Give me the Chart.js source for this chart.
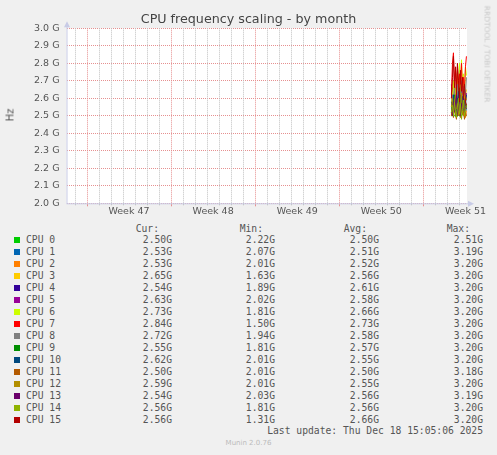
<!DOCTYPE html>
<html>
<head>
<meta charset="utf-8">
<script src="https://cdn.jsdelivr.net/npm/chart.js@4"></script>
<style>
  body { margin:0; background:#f0f0f0; width:497px; height:455px; overflow:hidden; position:relative; font-family:"DejaVu Sans", sans-serif; }
  #wrap { position:absolute; left:0; top:0; width:497px; height:220px; }
  .abs { position:absolute; white-space:pre; }
  .mono { font-family:"DejaVu Sans Mono", monospace; font-size:9.7px; color:#555; line-height:12px; }
  .sw { position:absolute; width:6px; height:6px; }
</style>
</head>
<body>
<div id="wrap"><canvas id="cpu"></canvas></div>
<div class="abs" id="title" style="left:0;width:497px;top:11px;text-align:center;font-size:12.7px;color:#444;">CPU frequency scaling - by month</div>
<div class="abs" style="left:10px;top:115px;font-size:10px;color:#555;transform:translate(-50%,-50%) rotate(-90deg);">Hz</div>
<div class="abs" style="left:487px;top:54px;font-size:7.5px;color:#c8c8c8;transform:translate(-50%,-50%) rotate(90deg);">RRDTOOL / TOBI OETIKER</div>
<div id="legend"></div>
<div class="abs mono" style="right:14px;top:425px;">Last update: Thu Dec 18 15:05:06 2025</div>
<div class="abs" style="left:0;width:497px;top:439px;text-align:center;font-size:7px;color:#bbb;">Munin 2.0.76</div>
<script>
// time axis: days since Mon 17 Nov 2025 00:00
var xMin = -1.70;
var xMax = 31.628;
var weekStarts = [0, 7, 14, 21, 28];
var weekLabels = ['Week 47', 'Week 48', 'Week 49', 'Week 50', 'Week 51'];
var yTicks = [2.0, 2.1, 2.2, 2.3, 2.4, 2.5, 2.6, 2.7, 2.8, 2.9, 3.0];

// sample times (2h resolution, only the last ~1.3 days have data)
var times = [30.33, 30.42, 30.50, 30.58, 30.67, 30.75, 30.83, 30.92, 31.00, 31.08, 31.17, 31.25, 31.33, 31.42, 31.50, 31.58];

var cpuNames = ['CPU 0','CPU 1','CPU 2','CPU 3','CPU 4','CPU 5','CPU 6','CPU 7','CPU 8','CPU 9','CPU 10','CPU 11','CPU 12','CPU 13','CPU 14','CPU 15'];
var cpuColors = ['#00cc00','#0066b3','#ff8000','#ffcc00','#330099','#990099','#ccff00','#ff0000','#808080','#008f00','#00487d','#b35a00','#b38f00','#6b006b','#8fb300','#b30000'];

// GHz
var cpu0  = [2.50,2.50,2.51,2.50,2.50,2.49,2.50,2.51,2.50,2.50,2.50,2.51,2.50,2.50,2.50,2.50];
var cpu1  = [2.52,2.55,2.60,2.53,2.58,2.51,2.56,2.62,2.54,2.50,2.57,2.53,2.60,2.52,2.55,2.53];
var cpu2  = [2.50,2.58,2.52,2.64,2.55,2.49,2.60,2.53,2.57,2.51,2.62,2.54,2.50,2.58,2.49,2.53];
var cpu3  = [2.55,2.62,2.70,2.58,2.66,2.52,2.74,2.60,2.55,2.68,2.57,2.63,2.72,2.56,2.61,2.65];
var cpu4  = [2.68,2.58,2.52,2.64,2.55,2.60,2.50,2.62,2.57,2.53,2.66,2.55,2.59,2.52,2.57,2.54];
var cpu5  = [2.60,2.66,2.55,2.62,2.58,2.70,2.54,2.61,2.57,2.64,2.52,2.60,2.67,2.55,2.58,2.63];
var cpu6  = [2.56,2.62,2.70,2.60,2.66,2.58,2.76,2.65,2.80,2.62,2.82,2.68,2.74,2.60,2.78,2.73];
var cpu7  = [2.62,2.80,2.86,2.70,2.76,2.65,2.78,2.60,2.74,2.68,2.80,2.62,2.72,2.66,2.78,2.84];
var cpu8  = [2.55,2.62,2.58,2.66,2.54,2.60,2.68,2.57,2.63,2.55,2.70,2.60,2.58,2.65,2.62,2.72];
var cpu9  = [2.52,2.58,2.55,2.62,2.50,2.57,2.60,2.53,2.66,2.55,2.59,2.52,2.61,2.56,2.58,2.55];
var cpu10 = [2.58,2.52,2.62,2.55,2.60,2.50,2.57,2.64,2.53,2.59,2.55,2.61,2.52,2.58,2.56,2.62];
var cpu11 = [2.50,2.53,2.49,2.55,2.51,2.48,2.54,2.50,2.52,2.49,2.56,2.51,2.53,2.48,2.52,2.50];
var cpu12 = [2.55,2.60,2.52,2.58,2.62,2.54,2.57,2.50,2.60,2.55,2.63,2.52,2.58,2.54,2.61,2.59];
var cpu13 = [2.54,2.50,2.58,2.52,2.56,2.62,2.51,2.55,2.59,2.50,2.57,2.53,2.60,2.52,2.55,2.54];
var cpu14 = [2.52,2.56,2.50,2.58,2.53,2.49,2.55,2.60,2.51,2.57,2.48,2.54,2.59,2.50,2.53,2.56];
var cpu15 = [2.60,2.72,2.84,2.66,2.78,2.62,2.80,2.70,2.58,2.76,2.64,2.72,2.60,2.68,2.58,2.56];
var series = [cpu0,cpu1,cpu2,cpu3,cpu4,cpu5,cpu6,cpu7,cpu8,cpu9,cpu10,cpu11,cpu12,cpu13,cpu14,cpu15];

// legend table values
var curVals = ['2.50G','2.53G','2.53G','2.65G','2.54G','2.63G','2.73G','2.84G','2.72G','2.55G','2.62G','2.50G','2.59G','2.54G','2.56G','2.56G'];
var minVals = ['2.22G','2.07G','2.01G','1.63G','1.89G','2.02G','1.81G','1.50G','1.94G','1.81G','2.01G','2.01G','2.01G','2.03G','1.81G','1.31G'];
var avgVals = ['2.50G','2.51G','2.52G','2.56G','2.61G','2.58G','2.66G','2.73G','2.58G','2.57G','2.55G','2.50G','2.55G','2.56G','2.56G','2.66G'];
var maxVals = ['2.51G','3.19G','3.20G','3.20G','3.20G','3.20G','3.20G','3.20G','3.20G','3.20G','3.20G','3.18G','3.20G','3.19G','3.20G','3.20G'];

var datasets = series.map(function(vals, i) {
    return {
        label: cpuNames[i],
        data: vals.map(function(v, j) { return { x: times[j], y: v }; }),
        borderColor: cpuColors[i],
        borderWidth: 1,
        pointRadius: 0,
        tension: 0,
        order: series.length - i
    };
});

// label positions: middle of each week
var labelTicks = weekStarts.map(function(w) { return w + 3.5; });

var majorCol = '#e69090';
var minorCol = '#c0c0c0';

var axisDecor = {
    id: 'axisDecor',
    beforeDraw: function(chart) {
        var a = chart.chartArea, c = chart.ctx;
        c.save();
        c.fillStyle = '#ffffff';
        c.fillRect(a.left, a.top, a.right - a.left, a.bottom - a.top);
        c.restore();
    },
    beforeDatasetsDraw: function(chart) {
        // daily (grey) and weekly (red) dotted grid lines
        var a = chart.chartArea, c = chart.ctx, xs = chart.scales.x;
        c.save();
        c.lineWidth = 1;
        c.setLineDash([1, 1]);
        for (var d = Math.ceil(xMin); d <= xMax; d++) {
            var major = weekStarts.indexOf(d) >= 0;
            var px = Math.round(xs.getPixelForValue(d)) + 0.5;
            c.strokeStyle = major ? majorCol : minorCol;
            c.beginPath(); c.moveTo(px, a.top); c.lineTo(px, a.bottom); c.stroke();
        }
        c.restore();
    },
    afterDraw: function(chart) {
        var a = chart.chartArea, c = chart.ctx, xs = chart.scales.x;
        c.save();
        c.lineWidth = 1;
        for (var d = Math.ceil(xMin); d <= xMax; d++) {
            var major = weekStarts.indexOf(d) >= 0;
            var px = Math.round(xs.getPixelForValue(d)) + 0.5;
            c.strokeStyle = major ? majorCol : minorCol;
            c.beginPath(); c.moveTo(px, a.bottom); c.lineTo(px, a.bottom + (major ? 3 : 2)); c.stroke();
        }
        c.strokeStyle = '#c8cbe6';
        c.beginPath();
        c.moveTo(a.left + 0.5, a.bottom + 0.5); c.lineTo(a.left + 0.5, a.top - 3);
        c.moveTo(a.left, a.bottom + 0.5); c.lineTo(a.right + 3, a.bottom + 0.5);
        c.stroke();
        c.fillStyle = '#c8cbe6';
        c.beginPath();
        c.moveTo(a.left + 0.5, a.top - 7); c.lineTo(a.left - 2.5, a.top - 1); c.lineTo(a.left + 3.5, a.top - 1); c.fill();
        c.beginPath();
        c.moveTo(a.right + 7, a.bottom + 0.5); c.lineTo(a.right + 1, a.bottom - 2.5); c.lineTo(a.right + 1, a.bottom + 3.5); c.fill();
        c.restore();
    }
};

new Chart(document.getElementById('cpu').getContext('2d'), {
    type: 'line',
    data: { datasets: datasets },
    plugins: [axisDecor],
    options: {
        responsive: true,
        maintainAspectRatio: false,
        animation: false,
        layout: { padding: { left: 0, right: 30, top: 28.3, bottom: 0 } },
        plugins: { legend: { display: false }, tooltip: { enabled: false } },
        scales: {
            x: {
                type: 'linear',
                min: xMin,
                max: xMax,
                afterBuildTicks: function(s) { s.ticks = labelTicks.map(function(v) { return { value: v }; }); },
                afterFit: function(s) { s.height = 16.7; },
                ticks: {
                    autoSkip: false,
                    maxRotation: 0,
                    padding: 3,
                    color: '#555',
                    font: { family: 'DejaVu Sans', size: 9.5 },
                    callback: function(v, i) { return weekLabels[i]; }
                },
                grid: { display: false, drawTicks: false },
                border: { display: false }
            },
            y: {
                min: 2.0,
                max: 3.0,
                afterBuildTicks: function(s) { s.ticks = yTicks.map(function(v) { return { value: v }; }); },
                afterFit: function(s) { s.width = 66.5; },
                ticks: {
                    padding: 7,
                    color: '#555',
                    font: { family: 'DejaVu Sans', size: 9.5 },
                    callback: function(v) { return v.toFixed(1) + ' G'; }
                },
                grid: { drawTicks: false, lineWidth: 1, color: majorCol },
                border: { display: false, dash: [1, 1] }
            }
        }
    }
});

// legend table
var lg = document.getElementById('legend');
function put(text, style) {
    var d = document.createElement('div');
    d.className = 'abs mono';
    d.textContent = text;
    d.setAttribute('style', style);
    lg.appendChild(d);
}
put('Cur:', 'right:338px;top:222.5px;');
put('Min:', 'right:234px;top:222.5px;');
put('Avg:', 'right:130px;top:222.5px;');
put('Max:', 'right:27px;top:222.5px;');
cpuNames.forEach(function(n, i) {
    var top = 234 + 12 * i;
    var sw = document.createElement('div');
    sw.className = 'sw';
    sw.style.left = '14px';
    sw.style.top = (top + 3) + 'px';
    sw.style.background = cpuColors[i];
    lg.appendChild(sw);
    put(n, 'left:26px;top:' + top + 'px;');
    put(curVals[i], 'right:325px;top:' + top + 'px;');
    put(minVals[i], 'right:222px;top:' + top + 'px;');
    put(avgVals[i], 'right:118px;top:' + top + 'px;');
    put(maxVals[i], 'right:14px;top:' + top + 'px;');
});
</script>
</body>
</html>
